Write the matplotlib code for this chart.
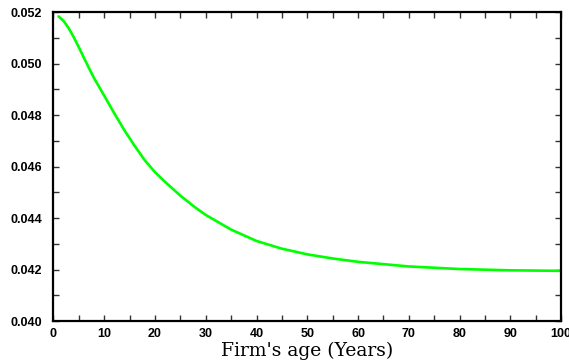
import matplotlib
matplotlib.use("Agg")
import matplotlib.pyplot as plt
from matplotlib.ticker import MultipleLocator, FormatStrFormatter

# firm's age (years) and value
age = [1, 2, 3, 4, 5, 6, 7, 8, 10, 12, 14, 16, 18, 20, 22, 25, 28, 30, 35, 40,
       45, 50, 55, 60, 70, 80, 90, 100]
value = [0.05183, 0.05165, 0.05137, 0.05102, 0.05063, 0.05022, 0.04982, 0.04943,
         0.04875, 0.04806, 0.04740, 0.04680, 0.04624, 0.04578, 0.04540, 0.04487,
         0.04440, 0.04412, 0.04355, 0.04311, 0.04281, 0.04259, 0.04243, 0.04230,
         0.04212, 0.04202, 0.04197, 0.04195]

fig = plt.figure(figsize=(5.69, 3.64), dpi=100)
ax = fig.add_axes([0.094, 0.118, 0.892, 0.849])

ax.plot(age, value, color='#00ff00', linewidth=1.9, solid_capstyle='round')

ax.set_xlim(0, 100)
ax.set_ylim(0.040, 0.052)
ax.xaxis.set_major_locator(MultipleLocator(10))
ax.xaxis.set_minor_locator(MultipleLocator(5))
ax.yaxis.set_major_locator(MultipleLocator(0.002))
ax.yaxis.set_minor_locator(MultipleLocator(0.001))
ax.yaxis.set_major_formatter(FormatStrFormatter('%.3f'))

for side in ax.spines.values():
    side.set_linewidth(1.6)

ax.tick_params(which='both', direction='in', top=True, right=True,
               length=4, width=1, color='#333333')
ax.tick_params(axis='x', which='major', pad=5)
ax.tick_params(axis='y', which='major', pad=8)
for lbl in ax.get_xticklabels() + ax.get_yticklabels():
    lbl.set_family('Liberation Sans')
    lbl.set_fontweight('bold')
    lbl.set_fontsize(9)

ax.set_xlabel("Firm's age (Years)", family='DejaVu Serif', fontsize=13.5, labelpad=1)

fig.savefig('out.png', dpi=100)
